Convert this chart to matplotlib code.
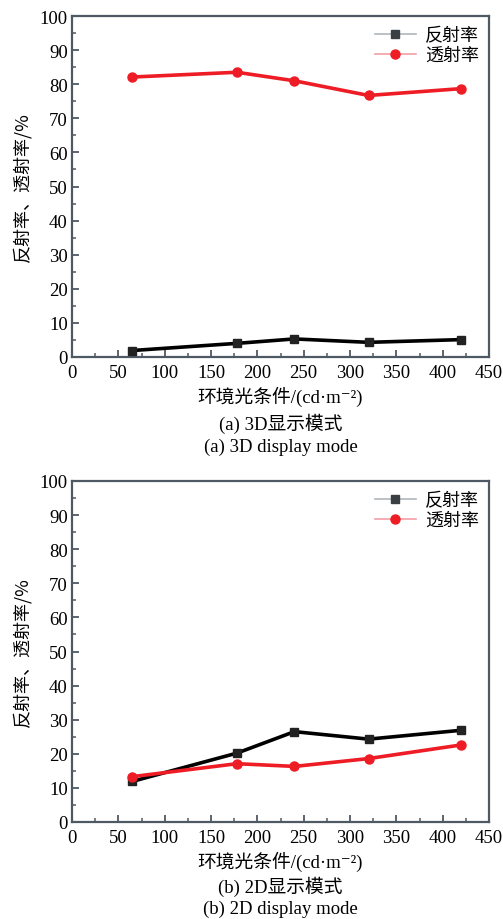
import matplotlib
matplotlib.use("Agg")
import matplotlib.pyplot as plt
from matplotlib.ticker import MultipleLocator

plt.rcParams['font.family'] = ['Liberation Serif', 'Noto Sans CJK SC', 'DejaVu Serif']
plt.rcParams['axes.unicode_minus'] = False

x_vals = [65, 178, 240, 320, 420]
refl_3d = [1.9, 4.0, 5.3, 4.3, 5.1]
trans_3d = [82.1, 83.5, 81.0, 76.7, 78.7]
refl_2d = [11.9, 20.2, 26.5, 24.3, 26.9]
trans_2d = [13.3, 17.1, 16.3, 18.6, 22.6]

series_labels = ['反射率', '透射率']
xlabel = '环境光条件/(cd·m⁻²)'
ylabel = '反射率、透射率/%'
captions = [('(a) 3D显示模式', '(a) 3D display mode'),
            ('(b) 2D显示模式', '(b) 2D display mode')]

W, H = 503, 920
fig = plt.figure(figsize=(W / 100, H / 100), dpi=100)
frame_col = '#4f5963'
fam = ['Liberation Serif', 'Noto Sans CJK SC', 'DejaVu Serif']

axes_boxes = [(72, 17, 489, 358), (72, 482, 489, 823)]
text_offsets = [(39, 66, 89), (39, 64, 86)]
data = [(refl_3d, trans_3d), (refl_2d, trans_2d)]
fs = 13.5
for (l, t, r, b), offs, (refl, trans), (cap_cn, cap_en) in zip(axes_boxes, text_offsets, data, captions):
    ax = fig.add_axes([l / W, 1 - b / H, (r - l) / W, (b - t) / H])
    ax.plot(x_vals, refl, color='black', lw=2.6, marker='s', ms=5.5,
            mfc='#222222', mec='#222222', zorder=3)
    ax.plot(x_vals, trans, color='#ee1c25', lw=2.6, marker='o', ms=6.5,
            mfc='#ee1c25', mec='#ee1c25', zorder=3)
    # legend proxies: light line with dark marker
    h1, = ax.plot([], [], color='#b0b6bb', lw=1.2, marker='s', ms=5.5,
                  mfc='#3a3f44', mec='#3a3f44')
    h2, = ax.plot([], [], color='#f4a0a6', lw=1.2, marker='o', ms=6.5,
                  mfc='#ee1c25', mec='#ee1c25')
    ax.legend([h1, h2], series_labels, loc='upper right', frameon=False,
              prop={'family': 'Noto Sans CJK SC', 'size': 13},
              handlelength=2.3, handletextpad=0.5, borderaxespad=0.15,
              labelspacing=0.12)
    ax.set_xlim(0, 450)
    ax.set_ylim(0, 100)
    ax.xaxis.set_major_locator(MultipleLocator(50))
    ax.xaxis.set_minor_locator(MultipleLocator(25))
    ax.yaxis.set_major_locator(MultipleLocator(10))
    ax.yaxis.set_minor_locator(MultipleLocator(5))
    ax.tick_params(which='both', direction='in', color=frame_col, top=False, right=False,
                   labelsize=fs, labelcolor='black')
    ax.tick_params(which='major', length=5, width=1.3)
    ax.tick_params(which='minor', length=3, width=1.1)
    ax.tick_params(axis='x', pad=5)
    ax.tick_params(axis='y', pad=3)
    for s in ax.spines.values():
        s.set_color(frame_col)
        s.set_linewidth(1.6)
    ax.set_ylabel(ylabel, fontsize=13, family=['Noto Sans CJK SC'], labelpad=6)
    cx = 0.5 * (l + r) / W
    fig.text(cx, 1 - (b + offs[0]) / H, xlabel, ha='center', va='center',
             fontsize=13.5, family=fam)
    fig.text(cx, 1 - (b + offs[1]) / H, cap_cn, ha='center', va='center',
             fontsize=13.5, family=fam)
    fig.text(cx, 1 - (b + offs[2]) / H, cap_en, ha='center', va='center',
             fontsize=13.5, family=['Liberation Serif'])

fig.savefig('out.png', dpi=100)
